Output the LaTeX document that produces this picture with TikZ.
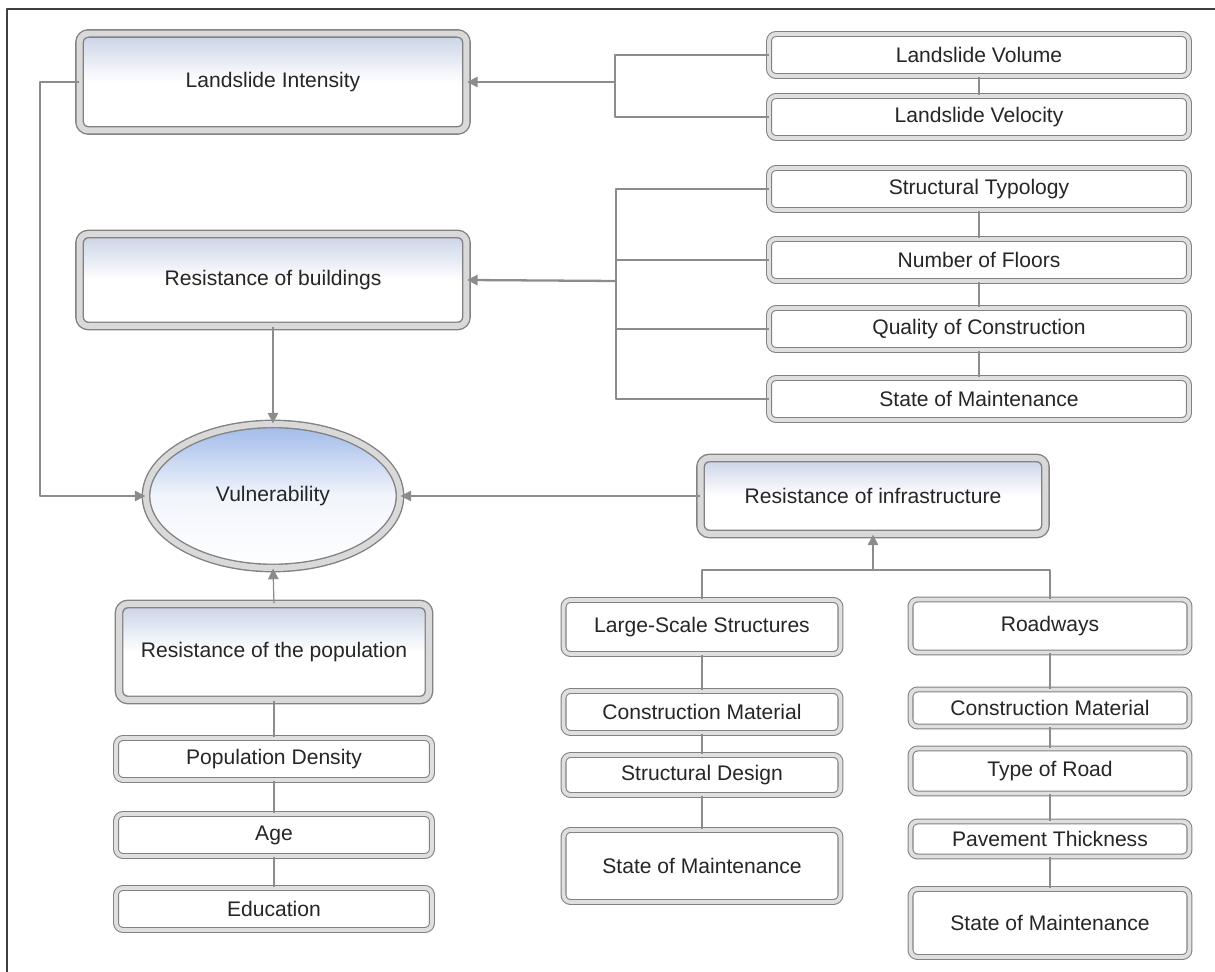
\documentclass[tikz,border=0pt]{standalone}
\usepackage{fontspec}
\setmainfont{Liberation Sans}
\usetikzlibrary{shapes.geometric,arrows.meta}
\definecolor{boxTop}{RGB}{200,210,230}
\definecolor{ovalTop}{RGB}{160,186,234}
\definecolor{lineGray}{RGB}{140,140,140}
\definecolor{rimGray}{RGB}{130,130,130}
\begin{document}
\begin{tikzpicture}[x=0.02cm, y=-0.02cm, line join=round,
  lbl/.style={font=\fontsize{12}{14}\selectfont, text=black!85, inner sep=0pt},
  mainbox/.style={lbl, rectangle, rounded corners=5pt, draw=rimGray, line width=0.8pt, double=gray!30, double distance=3.4pt, top color=boxTop, bottom color=white, middle color=white},
  subbox/.style={lbl, rectangle, rounded corners=4pt, draw=rimGray, line width=0.6pt, double=gray!25, double distance=2.2pt, fill=white},
  oval/.style={lbl, ellipse, draw=rimGray, line width=0.8pt, double=gray!30, double distance=3.4pt, top color=ovalTop, bottom color=white, middle color=ovalTop!15!white},
  link/.style={draw=lineGray, line width=0.7pt},
  arr/.style={link, -{Triangle[length=6pt,width=6pt]}},
  bigarr/.style={link, line width=1.3pt, -{Triangle[length=6pt,width=6pt]}}]
\useasboundingbox (0,0) rectangle (1215,972);
\draw[black!75, line width=0.6pt] (7,9) rectangle (1230,990);
\node[mainbox, minimum width=7.74cm, minimum height=1.94cm] (intensity) at (273,82) {Landslide Intensity};
\node[mainbox, minimum width=7.74cm, minimum height=1.84cm] (buildings) at (273,280) {Resistance of buildings};
\node[oval, minimum width=5.08cm, minimum height=2.88cm] (vuln) at (273,496) {Vulnerability};
\node[mainbox, minimum width=6.9cm, minimum height=1.52cm] (infra) at (873,496) {Resistance of infrastructure};
\node[mainbox, minimum width=6.2cm, minimum height=1.92cm] (population) at (274,652) {Resistance of the population};
\node[subbox, minimum width=8.4cm, minimum height=0.84cm] (volume) at (979,55) {Landslide Volume};
\node[subbox, minimum width=8.4cm, minimum height=0.84cm] (velocity) at (979,117) {Landslide Velocity};
\node[subbox, minimum width=8.4cm, minimum height=0.84cm] (typology) at (979,189) {Structural Typology};
\node[subbox, minimum width=8.4cm, minimum height=0.84cm] (floors) at (979,260) {Number of Floors};
\node[subbox, minimum width=8.4cm, minimum height=0.84cm] (quality) at (979,329) {Quality of Construction};
\node[subbox, minimum width=8.4cm, minimum height=0.84cm] (bldmaint) at (979,399) {State of Maintenance};
\node[subbox, minimum width=6.32cm, minimum height=0.84cm] (density) at (274,759) {Population Density};
\node[subbox, minimum width=6.32cm, minimum height=0.84cm] (age) at (274,835) {Age};
\node[subbox, minimum width=6.32cm, minimum height=0.84cm] (education) at (274,909) {Education};
\node[subbox, minimum width=5.54cm, minimum height=1.08cm] (large) at (702,627) {Large-Scale Structures};
\node[subbox, minimum width=5.54cm, minimum height=0.84cm] (lsmaterial) at (702,712) {Construction Material};
\node[subbox, minimum width=5.54cm, minimum height=0.8cm] (design) at (702,775) {Structural Design};
\node[subbox, minimum width=5.54cm, minimum height=1.44cm] (lsmaint) at (702,866) {State of Maintenance};
\node[subbox, minimum width=5.58cm, minimum height=1.06cm] (roadways) at (1050,626) {Roadways};
\node[subbox, minimum width=5.58cm, minimum height=0.74cm] (rdmaterial) at (1050,708) {Construction Material};
\node[subbox, minimum width=5.58cm, minimum height=0.9cm] (roadtype) at (1050,771) {Type of Road};
\node[subbox, minimum width=5.58cm, minimum height=0.7cm] (pavement) at (1050,839) {Pavement Thickness};
\node[subbox, minimum width=5.58cm, minimum height=1.36cm] (rdmaint) at (1050,923) {State of Maintenance};
\coordinate (jint) at (615,82);
\coordinate (jbld) at (616,281);
\coordinate (jleft) at (40,82);
\coordinate (jinf) at (873,570);
\draw[link] (volume.west) -| (jint);
\draw[link] (velocity.west) -| (jint);
\draw[arr] (jint) -- (intensity.east);
\draw[link] (volume) -- (velocity);
\draw[link] (typology.west) -| (jbld);
\draw[link] (bldmaint.west) -| (jbld);
\draw[link] (floors.west) -- (floors.west -| jbld);
\draw[link] (quality.west) -- (quality.west -| jbld);
\draw[bigarr] (jbld) -- (buildings.east);
\draw[link] (typology) -- (floors);
\draw[link] (floors) -- (quality);
\draw[link] (quality) -- (bldmaint);
\draw[arr] (intensity.west) -- (jleft) |- (vuln.west);
\draw[arr] (buildings.south) -- (vuln.north);
\draw[arr] (infra.west) -- (vuln.east);
\draw[arr] (population.north) -- (vuln.south);
\draw[link] (population) -- (density);
\draw[link] (density) -- (age);
\draw[link] (age) -- (education);
\draw[link] (large.north) |- (jinf);
\draw[link] (roadways.north) |- (jinf);
\draw[arr] (jinf) -- (infra.south);
\draw[link] (large) -- (lsmaterial);
\draw[link] (lsmaterial) -- (design);
\draw[link] (design) -- (lsmaint);
\draw[link] (roadways) -- (rdmaterial);
\draw[link] (rdmaterial) -- (roadtype);
\draw[link] (roadtype) -- (pavement);
\draw[link] (pavement) -- (rdmaint);
\end{tikzpicture}
\end{document}
